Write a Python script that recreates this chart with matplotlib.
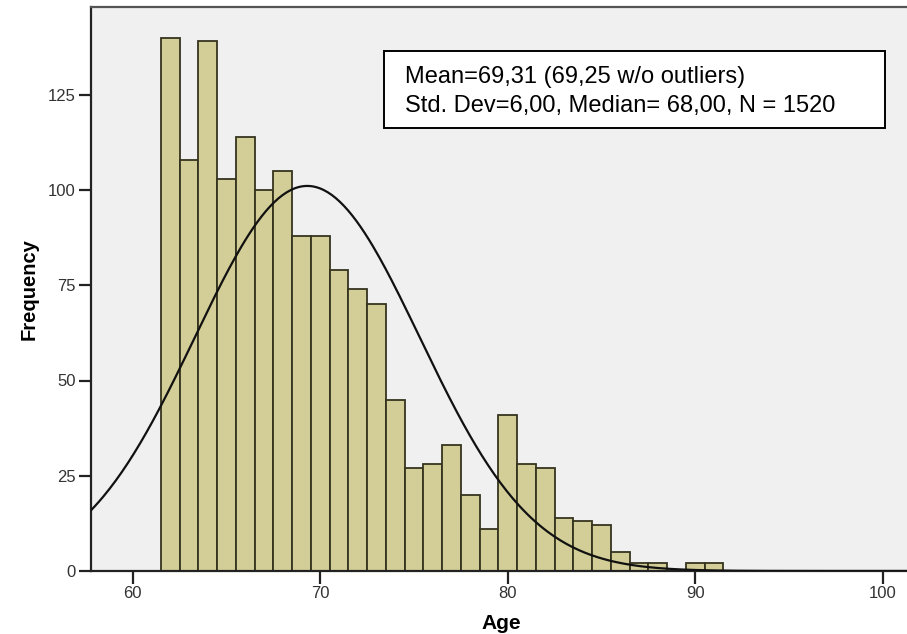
import numpy as np
import matplotlib
matplotlib.use("Agg")
import matplotlib.pyplot as plt

plt.rcParams["font.family"] = ["Liberation Sans", "DejaVu Sans"]

# Age histogram (1-year bins) with fitted normal curve
ages = [62, 63, 64, 65, 66, 67, 68, 69, 70, 71, 72, 73, 74, 75, 76,
        77, 78, 79, 80, 81, 82, 83, 84, 85, 86, 87, 88, 89, 90, 91]
counts = [140, 108, 139, 103, 114, 100, 105, 88, 88, 79, 74, 70, 45, 27, 28,
          33, 20, 11, 41, 28, 27, 14, 13, 12, 5, 2, 2, 0, 2, 2]

mean_age = 69.31
std_age = 6.00
n_total = 1520
bin_width = 1.0

x_ticks = [60, 70, 80, 90, 100]
y_ticks = [0, 25, 50, 75, 100, 125]

W, H = 907, 634
fig = plt.figure(figsize=(W / 100, H / 100), dpi=100)
ax = fig.add_axes([91 / W, 63 / H, (912 - 91) / W, (571 - 7) / H])
ax.set_facecolor("#F0F0F0")

ax.bar(ages, counts, width=bin_width, color="#D3CE97",
       edgecolor="#35341E", linewidth=1.3, zorder=2)

x0 = 60 - (132.7 - 91) / 18.75
x1 = x0 + (912 - 91) / 18.75
xs = np.linspace(x0, x1, 400)
ys = n_total * bin_width / (std_age * np.sqrt(2 * np.pi)) * \
    np.exp(-0.5 * ((xs - mean_age) / std_age) ** 2)
ax.plot(xs, ys, color="#111111", linewidth=1.6, zorder=3)

ax.set_xlim(x0, x1)
ax.set_ylim(0, 564 / 3.81)
ax.set_xticks(x_ticks)
ax.set_yticks(y_ticks)
ax.tick_params(axis="both", direction="out", length=9, width=1.6,
               color="#222222", labelsize=12, labelcolor="#333333", pad=2)

for side in ["left", "bottom"]:
    ax.spines[side].set_color("#222222")
    ax.spines[side].set_linewidth(1.6)
ax.spines["top"].set_color("#555555")
ax.spines["top"].set_linewidth(1.6)
ax.spines["right"].set_visible(False)

ax.set_xlabel("Age", fontsize=15, fontweight="bold", labelpad=9)
ax.set_ylabel("Frequency", fontsize=14.5, fontweight="bold", labelpad=7)

# Summary statistics box
box = plt.Rectangle((384 / W, 1 - 128 / H), (885 - 384) / W, (128 - 51) / H,
                    transform=fig.transFigure, facecolor="white",
                    edgecolor="black", linewidth=1.4, zorder=5)
fig.add_artist(box)
fig.text(405 / W, 1 - 83 / H, "Mean=69,31 (69,25 w/o outliers)",
         fontsize=17, color="black", va="baseline", ha="left", zorder=6)
fig.text(405 / W, 1 - 111.7 / H, "Std. Dev=6,00, Median= 68,00, N = 1520",
         fontsize=17, color="black", va="baseline", ha="left", zorder=6)

fig.savefig("out.png", dpi=100, facecolor="white")
